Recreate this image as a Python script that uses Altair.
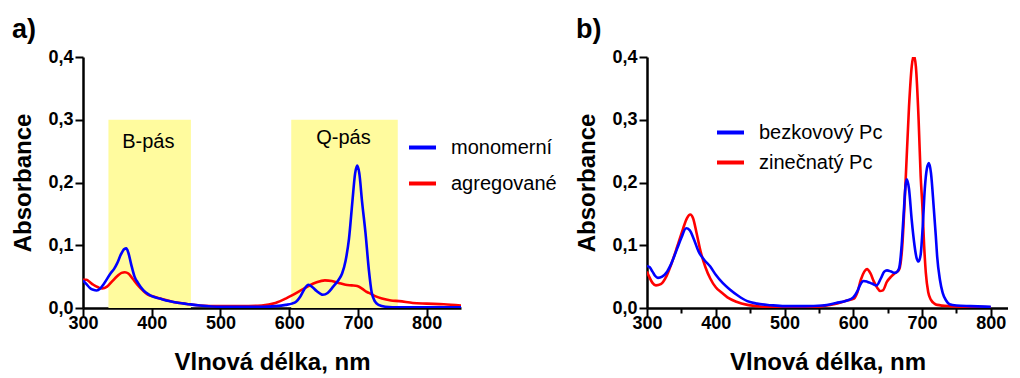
import altair as alt
import pandas as pd

FONT = "Liberation Sans"

# ---------------- panel a) ----------------
a_series = ["monomerní", "agregované"]
a_colors = ["#0000FF", "#FF0000"]

a_mono_nm = [300, 305, 310, 315, 320, 325, 330, 340, 345, 350, 355, 360, 363, 366, 370,
             375, 380, 388, 395, 400, 412, 425, 440, 451, 470, 500, 530, 560, 580, 595,
             604, 610, 616, 622, 628, 634, 640, 649, 656, 664, 672, 677, 682, 687, 692,
             696, 699, 702, 706, 711, 716, 720, 725, 730, 740, 760, 800, 850]
a_mono_abs = [0.044, 0.038, 0.032, 0.029, 0.028, 0.031, 0.038, 0.055, 0.062, 0.072, 0.085,
              0.094, 0.095, 0.088, 0.070, 0.050, 0.040, 0.028, 0.022, 0.019, 0.015, 0.011,
              0.008, 0.0065, 0.004, 0.002, 0.002, 0.002, 0.003, 0.005, 0.007, 0.010, 0.018,
              0.030, 0.037, 0.033, 0.027, 0.021, 0.024, 0.034, 0.045, 0.055, 0.075, 0.110,
              0.170, 0.215, 0.227, 0.215, 0.170, 0.120, 0.060, 0.025, 0.010, 0.005, 0.002,
              0.001, 0.001, 0.001]

a_aggr_nm = [300, 305, 308, 315, 322, 328, 335, 342, 350, 356, 361, 366, 372, 380, 388,
             395, 400, 412, 430, 451, 470, 500, 530, 560, 580, 595, 604, 615, 628, 640,
             652, 662, 672, 682, 691, 699, 706, 712, 716, 725, 735, 748, 760, 780, 800,
             825, 850]
a_aggr_abs = [0.045, 0.045, 0.043, 0.037, 0.033, 0.031, 0.034, 0.042, 0.051, 0.056, 0.057,
              0.055, 0.047, 0.036, 0.027, 0.021, 0.019, 0.015, 0.010, 0.0065, 0.004, 0.003,
              0.003, 0.004, 0.008, 0.015, 0.020, 0.027, 0.035, 0.041, 0.044, 0.043, 0.040,
              0.037, 0.036, 0.035, 0.031, 0.026, 0.024, 0.019, 0.015, 0.012, 0.011, 0.008,
              0.007, 0.006, 0.004]

band_start = [337, 603]
band_end = [457, 758]
band_bottom = [0.0, 0.0]
band_top = [0.3, 0.3]
band_label = ["B-pás", "Q-pás"]
band_label_nm = [395, 679]
band_label_abs = [0.264, 0.271]

# ---------------- panel b) ----------------
b_series = ["bezkovový Pc", "zinečnatý Pc"]
b_colors = ["#0000FF", "#FF0000"]

b_free_nm = [300, 304, 308, 312, 316, 322, 328, 335, 344, 350, 357, 362, 368, 375, 383,
             392, 400, 410, 420, 432, 446, 460, 480, 500, 530, 555, 575, 591, 600, 606,
             610, 615, 620, 627, 634, 640, 645, 649, 655, 660, 664, 667, 670, 673, 676,
             678, 681, 685, 689, 692, 695, 698, 701, 704, 707, 710, 713, 717, 720, 722,
             726, 730, 735, 740, 750, 770, 800]
b_free_abs = [0.067, 0.065, 0.058, 0.051, 0.048, 0.050, 0.056, 0.070, 0.095, 0.112, 0.127,
              0.124, 0.110, 0.090, 0.077, 0.066, 0.053, 0.040, 0.030, 0.020, 0.011, 0.007,
              0.0045, 0.003, 0.003, 0.004, 0.008, 0.012, 0.017, 0.027, 0.037, 0.043, 0.042,
              0.039, 0.036, 0.047, 0.058, 0.060, 0.058, 0.056, 0.058, 0.065, 0.095, 0.145,
              0.195, 0.205, 0.190, 0.140, 0.100, 0.080, 0.074, 0.085, 0.130, 0.190, 0.222,
              0.231, 0.215, 0.160, 0.115, 0.082, 0.045, 0.024, 0.012, 0.006, 0.004, 0.003,
              0.002]

b_zn_nm = [300, 304, 308, 313, 320, 328, 335, 344, 352, 358, 363, 367, 372, 378, 385,
           392, 400, 408, 417, 430, 446, 460, 480, 500, 530, 555, 577, 591, 601, 606,
           611, 616, 620, 625, 630, 635, 639, 643, 649, 655, 660, 664, 667, 671, 676,
           681, 685, 688, 691, 695, 698, 700.5, 703, 705.5, 709, 713, 718, 722, 740, 770,
           800]
b_zn_abs = [0.058, 0.048, 0.040, 0.036, 0.038, 0.050, 0.069, 0.098, 0.125, 0.143, 0.149,
            0.143, 0.120, 0.090, 0.065, 0.047, 0.033, 0.025, 0.017, 0.010, 0.005, 0.003,
            0.001, 0.001, 0.002, 0.003, 0.007, 0.012, 0.015, 0.025, 0.045, 0.058, 0.062,
            0.055, 0.042, 0.032, 0.027, 0.028, 0.042, 0.050, 0.055, 0.058, 0.062, 0.095,
            0.200, 0.320, 0.385, 0.403, 0.385, 0.300, 0.210, 0.162, 0.100, 0.056, 0.025,
            0.013, 0.007, 0.005, 0.003, 0.002, 0.001]

x_ticks = list(range(300, 851, 50))
y_ticks = [0.0, 0.1, 0.2, 0.3, 0.4]

PLOT_H = 251


def series_df(nm, ab, name):
    return pd.DataFrame({"nm": nm, "abs": ab, "series": name})


def x_enc(domain, title="Vlnová délka, nm"):
    return alt.X(
        "nm:Q",
        scale=alt.Scale(domain=domain, nice=False, zero=False),
        axis=alt.Axis(
            title=title,
            values=x_ticks,
            labelExpr="datum.value % 100 === 0 ? datum.value : ''",
            tickSize={"condition": {"test": "datum.value % 100 === 0", "value": 8}, "value": 5},
            labelPadding=-2,
            labelFlush=False,
            titlePadding=18,
        ),
    )


def y_enc():
    return alt.Y(
        "abs:Q",
        scale=alt.Scale(domain=[0, 0.4], nice=False),
        axis=alt.Axis(
            title="Absorbance",
            values=y_ticks,
            labelExpr="replace(format(datum.value, '.1f'), '.', ',')",
            tickSize=8,
            labelPadding=2,
            labelFlush=False,
            titlePadding=12,
        ),
    )


def color_enc(series, colors, lx, ly, row_pad):
    return alt.Color(
        "series:N",
        scale=alt.Scale(domain=series, range=colors),
        legend=alt.Legend(
            orient="none", legendX=lx, legendY=ly, title=None,
            symbolType="stroke", symbolSize=729, symbolStrokeWidth=4,
            labelFont=FONT, labelFontSize=20, labelFontWeight="normal",
            labelColor="black", labelOffset=13, rowPadding=row_pad,
        ),
    )


def panel(df_blue, df_red, series, colors, domain, width, title, lx, ly, row_pad, extra=None):
    base_x = x_enc(domain)
    layers = []
    if extra is not None:
        layers.extend(extra)
    red = alt.Chart(df_red).mark_line(strokeWidth=2.6, interpolate="monotone", clip=True).encode(
        x=base_x, y=y_enc(), color=color_enc(series, colors, lx, ly, row_pad))
    blue = alt.Chart(df_blue).mark_line(strokeWidth=2.6, interpolate="monotone", clip=True).encode(
        x=base_x, y=y_enc(), color=color_enc(series, colors, lx, ly, row_pad))
    layers.extend([red, blue])
    return alt.layer(*layers).properties(
        width=width, height=PLOT_H,
        title=alt.TitleParams(title, anchor="start", frame="bounds", font=FONT,
                              fontSize=27, fontWeight="bold", color="black", offset=4),
    )


bands = pd.DataFrame({"x1": band_start, "x2": band_end, "y1": band_bottom, "y2": band_top})
band_text = pd.DataFrame({"nm": band_label_nm, "abs": band_label_abs, "label": band_label})

band_rect = alt.Chart(bands).mark_rect(color="#FFFB9E", opacity=1).encode(
    x=alt.X("x1:Q", scale=alt.Scale(domain=[300, 850], nice=False, zero=False)),
    x2="x2:Q",
    y=alt.Y("y1:Q", scale=alt.Scale(domain=[0, 0.4], nice=False)),
    y2="y2:Q",
)
band_lbl = alt.Chart(band_text).mark_text(font=FONT, fontSize=20, color="black",
                                           baseline="middle", align="center").encode(
    x="nm:Q", y="abs:Q", text="label:N")

panel_a = panel(series_df(a_mono_nm, a_mono_abs, a_series[0]),
                series_df(a_aggr_nm, a_aggr_abs, a_series[1]),
                a_series, a_colors, [300, 850], 378, "a)", 324, 75, 10,
                extra=[band_rect, band_lbl])

panel_b = panel(series_df(b_free_nm, b_free_abs, b_series[0]),
                series_df(b_zn_nm, b_zn_abs, b_series[1]),
                b_series, b_colors, [300, 825], 361, "b)", 68, 60, 4)

chart = alt.hconcat(panel_a, panel_b, spacing=18).resolve_scale(
    color="independent", x="independent", y="independent"
).configure_view(stroke=None).configure_axis(
    grid=False,
    domainColor="black", domainWidth=2.5,
    tickColor="black", tickWidth=2,
    labelFont=FONT, labelFontSize=18, labelFontWeight="bold", labelColor="black",
    titleFont=FONT, titleFontSize=24, titleFontWeight="bold", titleColor="black",
).properties(
    padding={"left": 3, "top": 8, "right": 0, "bottom": 0},
    background="white",
)

chart.save("out.html", embed_options={"renderer": "svg", "actions": False})
